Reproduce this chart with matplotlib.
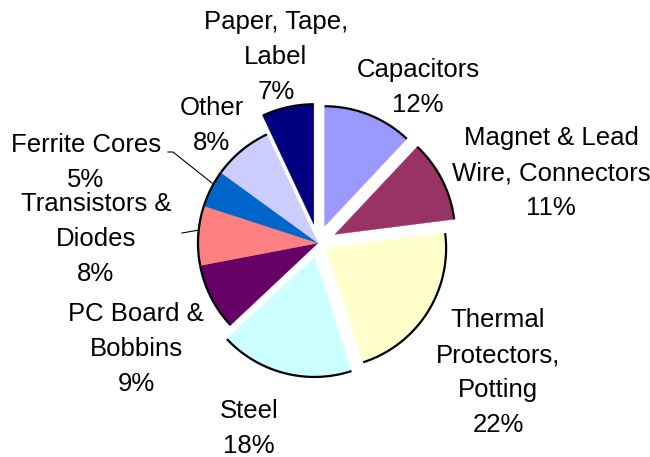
import matplotlib
matplotlib.use("Agg")
import matplotlib.pyplot as plt
import numpy as np

plt.rcParams['font.family'] = ['Liberation Sans', 'DejaVu Sans']

# slices clockwise from 12 o'clock
labels = ['Capacitors', 'Magnet & Lead\nWire, Connectors', 'Thermal\nProtectors,\nPotting',
          'Steel', 'PC Board &\nBobbins', 'Transistors &\nDiodes', 'Ferrite Cores',
          'Other', 'Paper, Tape,\nLabel']
shares = [12, 11, 22, 18, 9, 8, 5, 8, 7]
colors = ['#9999FF', '#993366', '#FFFFCC', '#CCFFFF', '#660066',
          '#FF8080', '#0066CC', '#CCCCFF', '#000080']
explode = [0.15, 0.16, 0.08, 0.12, 0, 0, 0, 0, 0.16]

# label centre x and first-line baseline y, in pixels from top-left
label_pos = [(418, 77), (551, 146), (498, 328), (249, 418), (136, 322),
             (96, 212), (86, 152), (212, 115), (276, 30)]
line_step = 34.7

W, H = 650, 457
fig = plt.figure(figsize=(6.5, 4.57), dpi=100)
ax = fig.add_axes([0, 0, 1, 1])

cx, cy, R = 318, H - 243, 120
wedges, _ = ax.pie(shares, colors=colors, explode=[e * R for e in explode],
                   startangle=90, counterclock=False, center=(cx, cy), radius=R,
                   wedgeprops=dict(linewidth=0.3), frame=True)
for w, c in zip(wedges, colors):
    w.set_edgecolor(c)
    t = np.radians(np.linspace(w.theta1, w.theta2, 100))
    ax.plot(w.center[0] + w.r * np.cos(t), w.center[1] + w.r * np.sin(t),
            color='black', lw=1.6, zorder=3, solid_capstyle='butt')
ax.set_xlim(0, W)
ax.set_ylim(0, H)
ax.set_aspect('equal')
ax.axis('off')

for lab, s, (x, y) in zip(labels, shares, label_pos):
    txt = lab + '\n' + str(s) + '%'
    n = txt.count('\n')
    # baseline alignment applies to the last line
    ax.text(x, H - (y + n * line_step), txt, ha='center', va='baseline',
            fontsize=18.5, linespacing=1.58, color='black')

# leader lines
ax.plot([168, 173, 212], [H - 152, H - 152, H - 183], color='black', lw=0.8)
ax.plot([182, 199], [H - 233, H - 230], color='black', lw=0.8)

fig.savefig('out.png', dpi=100)
